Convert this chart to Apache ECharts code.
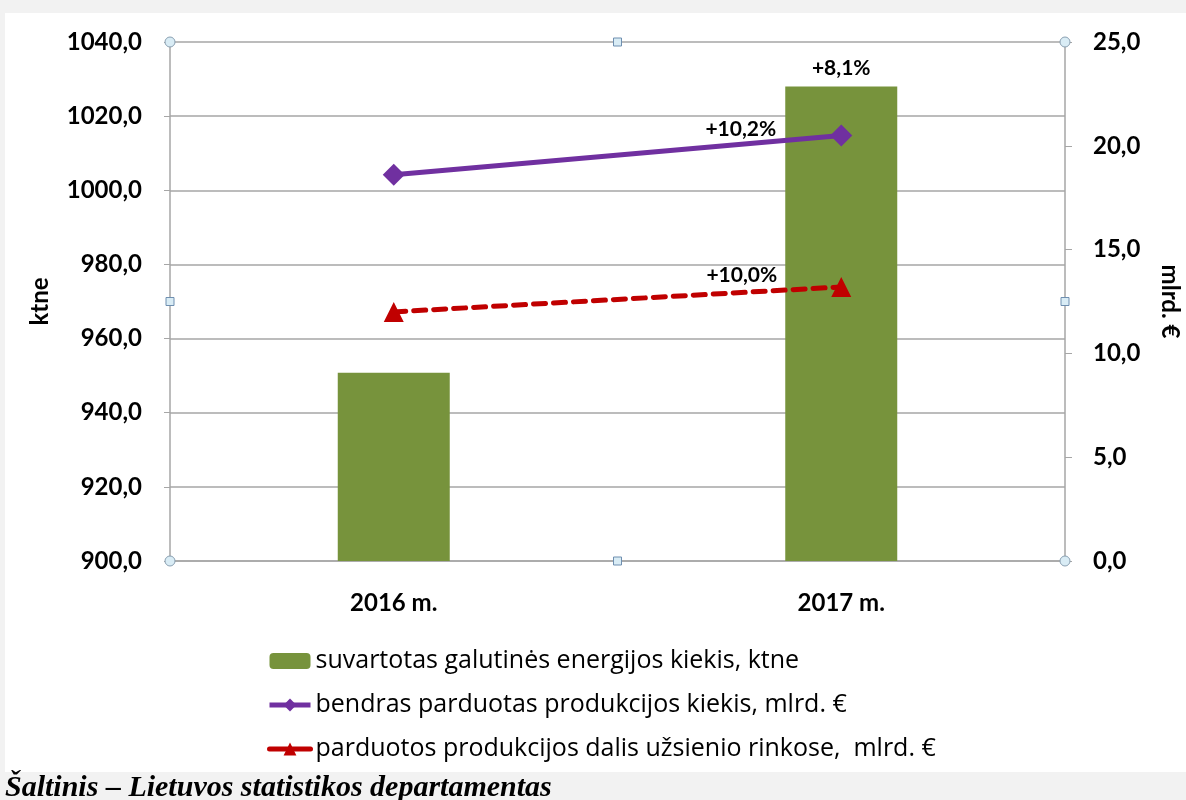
<!DOCTYPE html>
<html>
<head>
<meta charset="utf-8">
<script src="https://cdn.jsdelivr.net/npm/echarts@6/dist/echarts.min.js"></script>
<style>
html,body{margin:0;padding:0;background:#f2f2f2;}
#c{width:1186px;height:800px;}
</style>
</head>
<body>
<div id="c"></div>
<script>
const categories = ['2016 m.', '2017 m.'];
const energy = [950.8, 1028.0];          // ktne (left axis)
const totalSales = [18.6, 20.5];         // mlrd. € (right axis)
const exportSales = [12.0, 13.2];        // mlrd. € (right axis)
const energyLabels = ['', '+8,1%'];
const totalLabels = ['', '+10,2%'];
const exportLabels = ['', '+10,0%'];
const seriesNames = [
  'suvartotas galutinės energijos kiekis, ktne',
  'bendras parduotas produkcijos kiekis, mlrd. €',
  'parduotos produkcijos dalis užsienio rinkose,  mlrd. €'
];

const FONT = 'Lato';
const LEGEND_FONT = 'Open Sans';
const GL = 170, GT = 42, GR = 1065, GB = 561;
const chart = echarts.init(document.getElementById('c'), null, {renderer: 'canvas'});

function handle(type, x, y) {
  if (type === 'c') {
    return {type: 'circle', shape: {cx: x, cy: y, r: 5}, z: 100,
      style: {fill: '#d9ecf5', stroke: '#8aa0b2', lineWidth: 1}};
  }
  return {type: 'rect', shape: {x: x - 4, y: y - 4, width: 8, height: 8}, z: 100,
    style: {fill: '#d9ecf5', stroke: '#6f8fb0', lineWidth: 1}};
}

const option = {
  backgroundColor: '#f2f2f2',
  animation: false,
  textStyle: {fontFamily: FONT},
  graphic: [
    {type: 'rect', shape: {x: 5, y: 13, width: 1181, height: 759}, z: -10, style: {fill: '#ffffff'}},
    {type: 'text', left: 5, top: 773, z: 10,
      style: {text: 'Šaltinis – Lietuvos statistikos departamentas', fill: '#000',
        font: 'italic bold 30px "Liberation Serif"'}},
    handle('c', GL, GT), handle('c', GR, GT), handle('c', GL, GB), handle('c', GR, GB),
    handle('s', (GL + GR) / 2, GT), handle('s', (GL + GR) / 2, GB),
    handle('s', GL, (GT + GB) / 2), handle('s', GR, (GT + GB) / 2)
  ],
  grid: {left: GL, top: GT, width: GR - GL, height: GB - GT, containLabel: false, outerBoundsMode: 'none'},
  legend: {
    orient: 'vertical', left: 262, top: 643,
    itemWidth: 41, itemHeight: 16, itemGap: 18,
    textStyle: {fontFamily: LEGEND_FONT, fontSize: 25, color: '#000', lineHeight: 26},
    data: [
      {name: seriesNames[0]},
      {name: seriesNames[1], lineStyle: {width: 5, color: '#7030A0'}},
      {name: seriesNames[2], lineStyle: {width: 5, color: '#C00000', type: 'solid'}}
    ]
  },
  xAxis: {
    type: 'category', data: categories,
    axisLine: {lineStyle: {color: '#a6a6a6', width: 1.5}},
    axisTick: {show: false},
    axisLabel: {fontFamily: FONT, fontWeight: 'bold', fontSize: 24, color: '#000', margin: 30}
  },
  yAxis: [
    {
      type: 'value', min: 900, max: 1040, interval: 20, position: 'left',
      name: 'ktne', nameLocation: 'middle', nameGap: 118, nameRotate: 90,
      nameTextStyle: {fontFamily: FONT, fontWeight: 'bold', fontSize: 24, color: '#000'},
      axisLine: {show: true, lineStyle: {color: '#a6a6a6', width: 1.5}},
      axisTick: {show: true, length: 6, lineStyle: {color: '#a6a6a6'}},
      splitLine: {show: true, lineStyle: {color: '#a6a6a6', width: 1.5}},
      axisLabel: {fontFamily: FONT, fontWeight: 'bold', fontSize: 24, color: '#000', margin: 28,
        formatter: v => v.toFixed(1).replace('.', ',')}
    },
    {
      type: 'value', min: 0, max: 25, interval: 5, position: 'right',
      name: 'mlrd. €', nameLocation: 'middle', nameGap: 93, nameRotate: -90,
      nameTextStyle: {fontFamily: FONT, fontWeight: 'bold', fontSize: 24, color: '#000'},
      axisLine: {show: true, lineStyle: {color: '#a6a6a6', width: 1.5}},
      axisTick: {show: true, length: 7, lineStyle: {color: '#a6a6a6'}},
      splitLine: {show: false},
      axisLabel: {fontFamily: FONT, fontWeight: 'bold', fontSize: 24, color: '#000', margin: 28,
        formatter: v => v.toFixed(1).replace('.', ',')}
    }
  ],
  series: [
    {
      name: seriesNames[0], type: 'bar', yAxisIndex: 0, barWidth: 112,
      itemStyle: {color: '#77933C'},
      data: energy,
      label: {show: true, position: 'top', distance: 8, fontFamily: FONT, fontWeight: 'bold',
        fontSize: 21, color: '#000', formatter: p => energyLabels[p.dataIndex]},
      z: 2
    },
    {
      name: seriesNames[1], type: 'line', yAxisIndex: 1,
      symbol: 'diamond', symbolSize: 22,
      lineStyle: {color: '#7030A0', width: 5},
      itemStyle: {color: '#7030A0'},
      data: totalSales,
      label: {show: true, position: 'left', distance: 4, offset: [-50, -6], fontFamily: FONT,
        fontWeight: 'bold', fontSize: 21, color: '#000', formatter: p => totalLabels[p.dataIndex]},
      z: 5
    },
    {
      name: seriesNames[2], type: 'line', yAxisIndex: 1,
      symbol: 'triangle', symbolSize: 20,
      lineStyle: {color: '#C00000', width: 5, type: [12, 8], cap: 'round'},
      itemStyle: {color: '#C00000'},
      data: exportSales,
      label: {show: true, position: 'left', distance: 4, offset: [-50, -12], fontFamily: FONT,
        fontWeight: 'bold', fontSize: 21, color: '#000', formatter: p => exportLabels[p.dataIndex]},
      z: 5
    }
  ]
};
chart.setOption(option);
</script>
</body>
</html>
